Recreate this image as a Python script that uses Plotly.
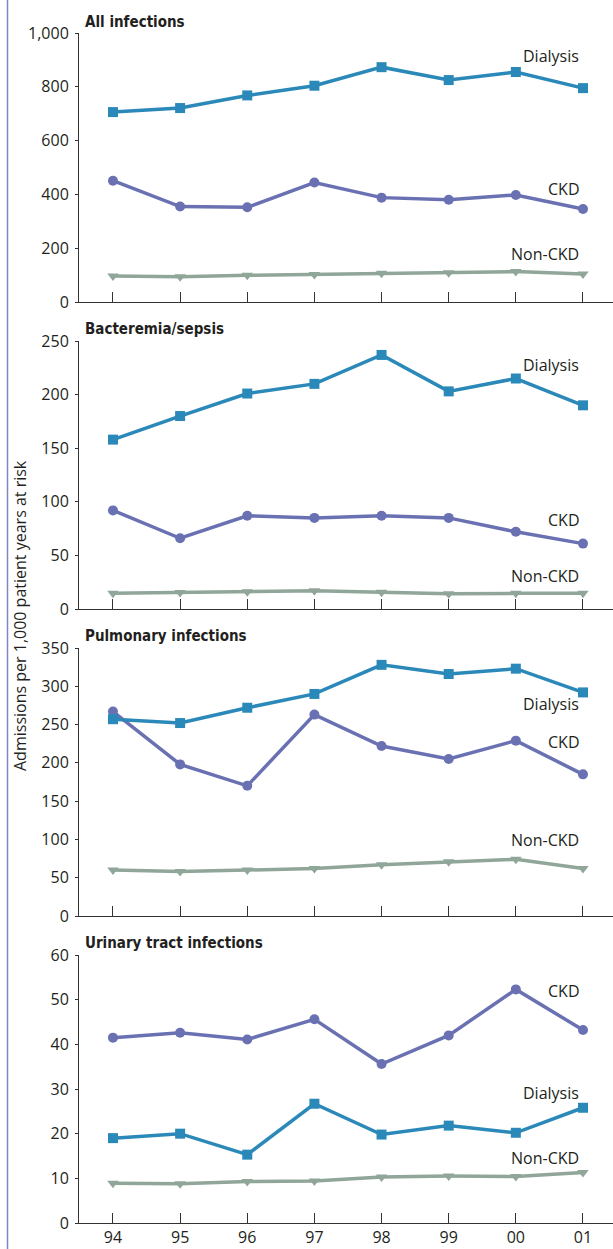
import plotly.graph_objects as go

years = ["94", "95", "96", "97", "98", "99", "00", "01"]

# Admissions per 1,000 patient years at risk, by panel and population
all_dialysis = [706, 721, 768, 804, 873, 825, 855, 795]
all_ckd = [451, 355, 352, 444, 388, 380, 398, 346]
all_nonckd = [97, 94, 99, 102, 107, 109, 113, 104]

bact_dialysis = [158, 180, 201, 210, 237, 203, 215, 190]
bact_ckd = [92, 66, 87, 85, 87, 85, 72, 61]
bact_nonckd = [14.6, 15.5, 16, 17, 15.7, 14.2, 14.6, 14.6]

pulm_dialysis = [257, 252, 272, 290, 328, 316, 323, 292]
pulm_ckd = [267, 198, 170, 263, 222, 205, 229, 185]
pulm_nonckd = [60, 58, 60, 62, 67, 71, 74, 62]

uti_dialysis = [19, 20, 15.3, 26.7, 19.8, 21.8, 20.2, 25.8]
uti_ckd = [41.5, 42.6, 41.1, 45.6, 35.6, 42, 52.3, 43.2]
uti_nonckd = [8.9, 8.8, 9.3, 9.4, 10.3, 10.5, 10.4, 11.3]

panel_titles = ["All infections", "Bacteremia/sepsis",
                "Pulmonary infections", "Urinary tract infections"]
panel_data = [
    (all_dialysis, all_ckd, all_nonckd),
    (bact_dialysis, bact_ckd, bact_nonckd),
    (pulm_dialysis, pulm_ckd, pulm_nonckd),
    (uti_dialysis, uti_ckd, uti_nonckd),
]
y_ranges = [(0, 1000, 200), (0, 250, 50), (0, 350, 50), (0, 60, 10)]
# series label heights (data units) per panel: Dialysis, CKD, Non-CKD
label_y = [(915, 419, 179), (228, 83, 31), (277, 227, 99), (29.2, 51.9, 14.6)]

W, H = 613, 1249
LEFT = 79
C_DIAL = "#2b89b9"
C_CKD = "#6a71b3"
C_NON = "#8fa699"
TXT = "#231f20"
FONT = "Open Sans, Noto Sans, sans-serif"
TITLE_FONT = "Liberation Sans Narrow, DejaVu Sans Condensed, sans-serif"

# vertical extents of each plot area in pixels (top, bottom)
panel_px = [(33, 302), (341, 609), (648, 916), (955, 1223)]
title_px = [22.5, 329, 636, 943]

fig = go.Figure()
annotations = []

for i, (dial, ckd, non) in enumerate(panel_data):
    n = i + 1
    xa = "x" if n == 1 else f"x{n}"
    ya = "y" if n == 1 else f"y{n}"
    styles = [
        (non, C_NON, "triangle-down", 10),
        (ckd, C_CKD, "circle", 10),
        (dial, C_DIAL, "square", 10),
    ]
    for vals, col, sym, size in styles:
        fig.add_trace(go.Scatter(
            x=years, y=vals, xaxis=xa, yaxis=ya, mode="lines+markers",
            line=dict(color=col, width=3.5),
            marker=dict(symbol=sym, size=size, color=col),
            cliponaxis=False, showlegend=False, hoverinfo="skip",
        ))

    top, bot = panel_px[i]
    lo, hi, step = y_ranges[i]
    xkey = "xaxis" if n == 1 else f"xaxis{n}"
    ykey = "yaxis" if n == 1 else f"yaxis{n}"
    fig.update_layout({
        xkey: dict(
            domain=[0, 1], anchor=ya, type="category",
            range=[-0.506, 7.447], automargin=False,
            showline=True, linecolor="#333", linewidth=1,
            ticks="inside", ticklen=10, tickcolor="#333", tickwidth=1,
            showticklabels=(n == 4), showgrid=False, zeroline=False,
            tickfont=dict(family=FONT, size=16, color=TXT),
        ),
        ykey: dict(
            domain=[1 - bot / H, 1 - top / H], anchor=xa,
            range=[lo, hi], dtick=step, tick0=0, tickformat=",d",
            automargin=False,
            showline=True, linecolor="#333", linewidth=1,
            ticks="outside", ticklen=3, tickcolor="#333",
            ticklabelstandoff=3,
            showgrid=False, zeroline=False,
            tickfont=dict(family=FONT, size=16, color=TXT),
        ),
    })

    annotations.append(dict(
        text=f"<b>{panel_titles[i]}</b>", xref="paper", yref="paper",
        x=(83 - LEFT) / (W - LEFT), y=1 - title_px[i] / H,
        xanchor="left", yanchor="middle", showarrow=False,
        font=dict(family=TITLE_FONT, size=15, color=TXT),
    ))
    for name, yv in zip(["Dialysis", "CKD", "Non-CKD"], label_y[i]):
        annotations.append(dict(
            text=name, xref=xa, yref=ya, x=7, y=yv,
            xanchor="right", yanchor="middle", xshift=-2, showarrow=False,
            font=dict(family=FONT, size=16, color=TXT),
        ))

annotations.append(dict(
    text="Admissions per 1,000 patient years at risk",
    xref="paper", yref="paper",
    x=(20 - LEFT) / (W - LEFT), y=1 - 616 / H,
    xanchor="center", yanchor="middle", textangle=-90, showarrow=False,
    font=dict(family=FONT, size=16, color=TXT),
))

fig.update_layout(
    width=W, height=H,
    margin=dict(l=LEFT, r=0, t=0, b=0),
    paper_bgcolor="white", plot_bgcolor="white",
    annotations=annotations,
    shapes=[dict(
        type="line", xref="paper", yref="paper",
        x0=(7.5 - LEFT) / (W - LEFT), x1=(7.5 - LEFT) / (W - LEFT),
        y0=0, y1=1, line=dict(color="#7f86c6", width=1.5),
    )],
)

fig.write_html("out.html")
